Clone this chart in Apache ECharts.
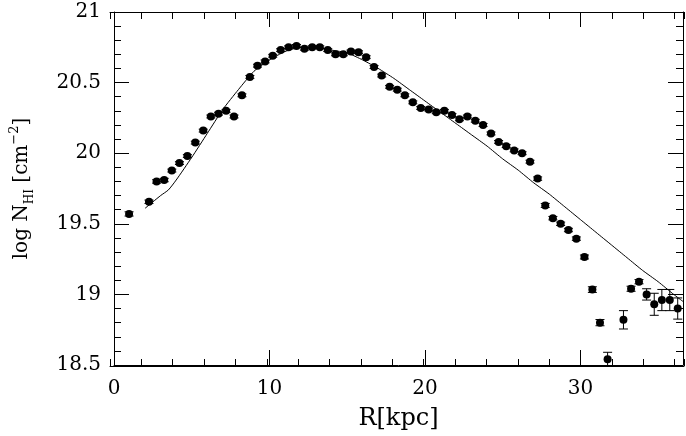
<!DOCTYPE html>
<html>
<head>
<meta charset="utf-8">
<script src="https://cdn.jsdelivr.net/npm/echarts@6/dist/echarts.min.js"></script>
<style>html,body{margin:0;padding:0;background:#fff}#c{width:686px;height:436px}</style>
</head>
<body>
<div id="c"></div>
<script>
// Observed HI column density profile
const radius = [0.97, 2.25, 2.74, 3.23, 3.72, 4.21, 4.72, 5.23, 5.74, 6.23,
  6.72, 7.21, 7.72, 8.23, 8.74, 9.23, 9.72, 10.21, 10.72, 11.23,
  11.74, 12.25, 12.75, 13.24, 13.75, 14.25, 14.75, 15.24, 15.73, 16.22,
  16.73, 17.22, 17.73, 18.22, 18.71, 19.22, 19.73, 20.24, 20.73, 21.25,
  21.74, 22.22, 22.73, 23.24, 23.74, 24.25, 24.74, 25.23, 25.74, 26.25,
  26.76, 27.25, 27.74, 28.23, 28.73, 29.23, 29.74, 30.26, 30.77, 31.26,
  31.75, 32.77, 33.26, 33.77, 34.26, 34.75, 35.24, 35.75, 36.26];
const logN = [19.57, 19.656, 19.80, 19.81, 19.877, 19.93, 19.98, 20.075, 20.16, 20.26,
  20.28, 20.30, 20.26, 20.41, 20.54, 20.62, 20.65, 20.69, 20.73, 20.75,
  20.76, 20.74, 20.75, 20.75, 20.73, 20.70, 20.70, 20.72, 20.715, 20.68,
  20.61, 20.55, 20.47, 20.45, 20.41, 20.36, 20.32, 20.31, 20.29, 20.30,
  20.27, 20.24, 20.26, 20.23, 20.20, 20.14, 20.08, 20.05, 20.02, 20.00,
  19.94, 19.82, 19.63, 19.54, 19.50, 19.456, 19.395, 19.265, 19.034, 18.80,
  18.54, 18.82, 19.04, 19.09, 19.00, 18.93, 18.96, 18.96, 18.90];
const logNErr = [0.015, 0.012, 0.012, 0.012, 0.01, 0.01, 0.01, 0.01, 0.01, 0.01,
  0.01, 0.01, 0.01, 0.01, 0.01, 0.01, 0.01, 0.01, 0.01, 0.01,
  0.01, 0.01, 0.01, 0.01, 0.01, 0.01, 0.01, 0.01, 0.01, 0.01,
  0.01, 0.01, 0.01, 0.01, 0.01, 0.01, 0.01, 0.01, 0.01, 0.01,
  0.01, 0.01, 0.01, 0.01, 0.01, 0.01, 0.01, 0.01, 0.01, 0.01,
  0.01, 0.012, 0.014, 0.012, 0.012, 0.012, 0.012, 0.014, 0.02, 0.022,
  0.05, 0.065, 0.018, 0.015, 0.04, 0.078, 0.075, 0.075, 0.075];
// Model curve
const modelR = [2.0, 3.0, 3.5, 4.0, 5.0, 6.0, 7.0, 8.0, 9.0, 10.0, 11.0, 12.0, 13.0, 14.0, 15.0, 16.0, 17.0, 18.0,
  19.0, 20.0, 21.0, 22.0, 23.0, 24.0, 25.0, 26.0, 27.0, 28.0, 29.0, 30.0, 31.0, 32.0, 33.0, 34.0, 35.0, 36.0, 36.6];
const modelLogN = [19.61, 19.70, 19.74, 19.81, 19.97, 20.14, 20.31, 20.45, 20.58, 20.66, 20.72, 20.75, 20.75, 20.73, 20.71, 20.66, 20.60, 20.53,
  20.45, 20.37, 20.29, 20.21, 20.13, 20.05, 19.96, 19.88, 19.79, 19.71, 19.62, 19.53, 19.44, 19.35, 19.26, 19.17, 19.09, 19.00, 18.95];
const xTickLabels = ['0', '10', '20', '30'];

const FONT = 'DejaVu Serif';
const FS = 20;
const black = '#000';
const X_MAX = 36.6;
const tickStyle = { color: black, width: 1 };

function majorX(pos, withLabels) {
  const a = {
    type: 'value', gridIndex: 0, min: 0, max: X_MAX, interval: 10, position: pos,
    axisLine: { show: true, onZero: false, lineStyle: { color: black, width: 1 } },
    axisTick: { show: true, inside: true, length: 15, lineStyle: tickStyle },
    axisLabel: { show: false },
    splitLine: { show: false }
  };
  if (withLabels) {
    a.axisLabel = {
      show: true, margin: 14, color: black, fontFamily: FONT, fontSize: FS,
      formatter: function (v) {
        const s = String(Math.round(v));
        return (Math.abs(v - Math.round(v)) < 1e-6 && xTickLabels.indexOf(s) >= 0) ? s : '';
      }
    };
    a.name = 'R[kpc]';
    a.nameLocation = 'middle';
    a.nameGap = 42;
    a.nameTextStyle = { color: black, fontFamily: FONT, fontSize: 24 };
  }
  return a;
}
function minorX(pos) {
  return {
    type: 'value', gridIndex: 1, min: 0, max: X_MAX, interval: 2, position: pos,
    axisLine: { show: true, onZero: false, lineStyle: { color: black, width: 1 } },
    axisTick: { show: true, inside: true, length: 7, lineStyle: tickStyle },
    axisLabel: { show: false },
    splitLine: { show: false }
  };
}
function majorY(pos, withLabels) {
  const a = {
    type: 'value', gridIndex: 0, min: 18.5, max: 21, interval: 0.5, position: pos,
    axisLine: { show: true, onZero: false, lineStyle: { color: black, width: 1 } },
    axisTick: { show: true, inside: true, length: 15, lineStyle: tickStyle },
    minorTick: { show: true, splitNumber: 5, length: 7, lineStyle: tickStyle },
    axisLabel: { show: false },
    splitLine: { show: false }, minorSplitLine: { show: false }
  };
  if (withLabels) {
    a.axisLabel = { show: true, margin: 13, color: black, fontFamily: FONT, fontSize: FS };
    a.name = '{t|log N}{s|HI}{t| [cm}{p|−2}{t|]}';
    a.nameLocation = 'middle';
    a.nameRotate = 90;
    a.nameGap = 78;
    a.nameTextStyle = {
      color: black, fontFamily: FONT, fontSize: FS,
      rich: {
        t: { fontFamily: FONT, fontSize: FS, color: black, lineHeight: 28, verticalAlign: 'middle' },
        s: { fontFamily: FONT, fontSize: 12, color: black, lineHeight: 12, verticalAlign: 'bottom' },
        p: { fontFamily: FONT, fontSize: 13, color: black, lineHeight: 14, verticalAlign: 'top' }
      }
    };
  }
  return a;
}

const gridRect = { left: 110, right: 2, top: 12, bottom: 70 };
const chart = echarts.init(document.getElementById('c'), null, { renderer: 'canvas' });
chart.setOption({
  animation: false,
  backgroundColor: '#fff',
  grid: [Object.assign({}, gridRect), Object.assign({}, gridRect)],
  xAxis: [majorX('bottom', true), majorX('top', false), minorX('bottom'), minorX('top')],
  yAxis: [
    majorY('left', true), majorY('right', false),
    { type: 'value', gridIndex: 1, min: 18.5, max: 21, show: false }
  ],
  series: [
    {
      type: 'line', xAxisIndex: 0, yAxisIndex: 0, showSymbol: false, smooth: 0.2,
      lineStyle: { color: black, width: 1 }, z: 1,
      data: modelR.map((r, i) => [r, modelLogN[i]])
    },
    {
      type: 'custom', xAxisIndex: 0, yAxisIndex: 0, z: 2, clip: true,
      data: radius.map((r, i) => [r, logN[i], logNErr[i]]),
      renderItem: function (params, api) {
        const x = api.value(0), y = api.value(1), e = api.value(2);
        const hi = api.coord([x, y + e]);
        const lo = api.coord([x, y - e]);
        const w = 4.5;
        const st = { stroke: black, lineWidth: 1 };
        return {
          type: 'group',
          children: [
            { type: 'line', shape: { x1: hi[0], y1: hi[1], x2: lo[0], y2: lo[1] }, style: st },
            { type: 'line', shape: { x1: hi[0] - w, y1: hi[1], x2: hi[0] + w, y2: hi[1] }, style: st },
            { type: 'line', shape: { x1: lo[0] - w, y1: lo[1], x2: lo[0] + w, y2: lo[1] }, style: st }
          ]
        };
      }
    },
    {
      type: 'scatter', xAxisIndex: 0, yAxisIndex: 0, z: 3,
      symbol: 'circle', symbolSize: 8,
      itemStyle: { color: black, opacity: 1 },
      data: radius.map((r, i) => [r, logN[i]])
    }
  ]
});
</script>
</body>
</html>
